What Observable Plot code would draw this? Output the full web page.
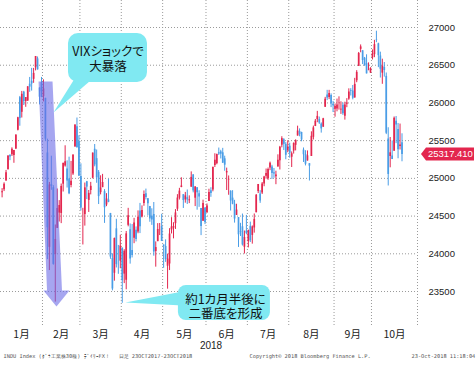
<!DOCTYPE html>
<html><head><meta charset="utf-8">
<script src="https://cdn.jsdelivr.net/npm/d3@7"></script>
<script src="https://cdn.jsdelivr.net/npm/@observablehq/plot@0.6"></script>
<style>
body{margin:0;background:#fff;}
svg text{font-feature-settings:"palt";}
</style></head><body><div id="chart"></div>
<script>
const monthNames = ["1月","2月","3月","4月","5月","6月","7月","8月","9月","10月"];
const yTicks = [23500,24000,24500,25000,25500,26000,26500,27000];
const dates = [
"01-02","01-03","01-04","01-05","01-08","01-09","01-10","01-11","01-12","01-16","01-17","01-18","01-19","01-22","01-23","01-24","01-25","01-26","01-29","01-30","01-31",
"02-01","02-02","02-05","02-06","02-07","02-08","02-09","02-12","02-13","02-14","02-15","02-16","02-20","02-21","02-22","02-23","02-26","02-27","02-28",
"03-01","03-02","03-05","03-06","03-07","03-08","03-09","03-12","03-13","03-14","03-15","03-16","03-19","03-20","03-21","03-22","03-23","03-26","03-27","03-28","03-29",
"04-02","04-03","04-04","04-05","04-06","04-09","04-10","04-11","04-12","04-13","04-16","04-17","04-18","04-19","04-20","04-23","04-24","04-25","04-26","04-27","04-30",
"05-01","05-02","05-03","05-04","05-07","05-08","05-09","05-10","05-11","05-14","05-15","05-16","05-17","05-18","05-21","05-22","05-23","05-24","05-25","05-29","05-30","05-31",
"06-01","06-04","06-05","06-06","06-07","06-08","06-11","06-12","06-13","06-14","06-15","06-18","06-19","06-20","06-21","06-22","06-25","06-26","06-27","06-28","06-29",
"07-02","07-03","07-05","07-06","07-09","07-10","07-11","07-12","07-13","07-16","07-17","07-18","07-19","07-20","07-23","07-24","07-25","07-26","07-27","07-30","07-31",
"08-01","08-02","08-03","08-06","08-07","08-08","08-09","08-10","08-13","08-14","08-15","08-16","08-17","08-20","08-21","08-22","08-23","08-24","08-27","08-28","08-29","08-30","08-31",
"09-04","09-05","09-06","09-07","09-10","09-11","09-12","09-13","09-14","09-17","09-18","09-19","09-20","09-21","09-24","09-25","09-26","09-27","09-28",
"10-01","10-02","10-03","10-04","10-05","10-08","10-09","10-10","10-11","10-12","10-15","10-16","10-17","10-18","10-19","10-22"];
const opens = [
24809,24850,24965,25115,25308,25312,25303,25389,25638,26070,25876,26143,26019,26026,26248,26288,26313,26466,26584,26198,26268,
26083,26061,25337,24085,24916,24876,23992,24337,24540,24535,24923,25165,25124,24993,24904,25059,25420,25683,25486,
25024,24536,24520,24955,24708,24839,25003,25386,25261,25080,24811,24877,24824,24647,24713,24535,23939,23742,24331,23850,23902,
24076,23731,23649,24378,24318,24043,24205,24311,24288,24569,24488,24667,24795,24730,24626,24500,24521,24031,24161,24308,24361,
24117,24097,23836,23865,24317,24341,24399,24591,24737,24879,24784,24715,24744,24703,24883,25047,24737,24877,24797,24600,24430,24607,
24542,24694,24836,24846,25172,25195,25340,25352,25339,25259,25073,24979,24830,24738,24657,24509,24481,24292,24358,24087,24301,
24161,24364,24244,24343,24544,24825,24792,24807,24926,25028,24995,25136,25150,25073,25022,25150,25232,25440,25512,25451,25370,
25427,25280,25362,25438,25561,25622,25609,25375,25317,25230,25195,25290,25545,25687,25779,25780,25720,25678,25942,26105,26071,26097,25982,
25916,25920,25991,25905,25969,25823,25984,26051,26163,26158,26066,26294,26484,26710,26692,26593,26524,26436,26396,
26598,26640,26833,26784,26623,26395,26472,26352,25522,25290,25296,25361,25757,25648,25422,25473];
const highs = [
24864,24941,25105,25299,25311,25405,25370,25575,25810,26086,26153,26154,26072,26215,26338,26458,26458,26616,26609,26199,26338,
26306,26061,25520,24946,25294,24903,24382,24859,24705,24925,25200,25432,25232,25281,25225,25310,25709,25800,25565,
25193,24603,24938,24960,24839,24947,25336,25449,25376,25104,25034,25053,24851,24797,24987,24535,24000,24209,24458,24111,24246,
24076,24054,24296,24603,24396,24388,24470,24356,24569,24668,24635,24833,24858,24733,24628,24597,24680,24158,24400,24402,24524,
24117,24185,23996,24333,24479,24412,24586,24784,24868,25008,24784,24814,24846,24768,25086,25047,24890,24877,24836,24600,24711,24607,
24661,24856,24876,25146,25326,25322,25402,25372,25398,25294,25136,25032,24835,24837,24709,24657,24481,24404,24527,24302,24509,
24314,24420,24370,24528,24786,24919,24837,24945,25027,25124,25137,25216,25173,25131,25095,25312,25424,25552,25526,25474,25499,
25466,25351,25471,25511,25692,25656,25611,25403,25367,25364,25195,25617,25693,25781,25888,25813,25736,25796,26074,26167,26167,26120,26021,
25986,26051,26081,26015,26000,26010,26057,26187,26189,26231,26326,26428,26669,26769,26692,26603,26638,26531,26466,
26703,26830,26951,26792,26673,26580,26536,26397,25671,25542,25496,25814,25820,25728,25720,25591];
const lows = [
24742,24825,24963,25112,25235,25290,25200,25383,25629,25691,25800,25966,25942,26019,26141,26157,26260,26425,26435,25974,26071,
26014,25490,23923,23778,24842,23849,23360,24337,24421,24400,24819,25149,24872,24784,24875,25039,25409,25398,25029,
24568,24117,24367,24719,24548,24781,24993,25153,24935,24653,24781,24877,24403,24625,24677,23927,23509,23637,23812,23728,23802,
23344,23605,23523,24358,23863,23945,24134,24157,24266,24268,24476,24630,24714,24505,24418,24377,23968,23823,24161,24242,24163,
23808,23886,23531,23778,24263,24198,24323,24562,24713,24876,24601,24671,24654,24665,24883,24808,24626,24578,24616,24241,24430,24387,
24542,24694,24749,24822,25144,25180,25304,25257,25199,25094,24839,24776,24567,24650,24407,24509,24084,24229,24103,23997,24254,
24078,24150,24128,24274,24544,24799,24669,24786,24889,24990,24974,25102,24985,25001,24916,25150,25111,25405,25369,25247,25340,
25267,25144,25322,25364,25561,25551,25485,25211,25165,25230,24965,25290,25509,25687,25738,25715,25600,25678,25942,26031,26044,25938,25873,
25811,25882,25905,25848,25835,25772,25937,26035,26092,26041,26064,26268,26484,26665,26509,26486,26385,26426,26391,
26570,26600,26799,26468,26330,26247,26342,25580,24899,25140,25249,25361,25460,25260,25376,25220];
const closes = [
24824,24922,25075,25295,25283,25385,25369,25574,25803,25792,26115,26017,26071,26214,26210,26252,26392,26616,26439,26076,26149,
26186,25520,24345,24912,24893,23860,24190,24601,24640,24893,25200,25219,24964,24797,24962,25309,25709,25410,25029,
24608,24538,24874,24884,24801,24895,25335,25178,25007,24758,24873,24946,24610,24727,24682,23957,23533,24202,23857,23848,24103,
23644,24033,24264,24505,23932,23979,24407,24189,24483,24360,24573,24786,24748,24664,24462,24448,24024,24083,24322,24311,24163,
24099,23924,23930,24262,24357,24360,24542,24739,24831,24899,24706,24768,24713,24715,25013,24834,24886,24811,24753,24361,24667,24415,
24635,24813,24799,25146,25241,25316,25322,25320,25201,25175,25090,24987,24700,24657,24461,24580,24252,24283,24117,24216,24271,
24307,24174,24356,24456,24776,24919,24700,24924,25019,25064,25119,25199,25064,25058,25044,25241,25414,25527,25451,25306,25415,
25333,25326,25462,25502,25628,25583,25509,25313,25187,25299,25162,25558,25669,25758,25822,25733,25656,25790,26049,26064,26124,25986,25964,
25952,25974,25995,25916,25857,25971,25998,26145,26154,26062,26246,26405,26656,26743,26562,26492,26385,26439,26458,
26651,26773,26828,26627,26447,26486,26430,25598,25052,25339,25250,25798,25706,25379,25444,25317.41];

const RED = "#e3264e", BLUE = "#4a9de6", CYAN = "#80e9f2";
const rows = dates.map((d, i) => ({i, month: +d.slice(0, 2), o: opens[i], h: highs[i], l: lows[i], c: closes[i]}));
const up = rows.filter(r => r.c >= r.o);
const down = rows.filter(r => r.c < r.o);
const xDomain = [-0.81, 210.86];
const bounds = monthNames.slice(1).map((m, k) => rows.findIndex(r => r.month === k + 2) - 0.5);
const edges = [xDomain[0], ...bounds, xDomain[1]];
const monthLabels = monthNames.map((name, k) => ({name, x: (edges[k] + edges[k + 1]) / 2}));
const lastClose = closes[closes.length - 1];

// annotation geometry (trading-day index, price)
const arrowPts = [{x:18.5,y:26284},{x:25.6,y:26284},{x:30.4,y:23513},{x:34.2,y:23513},{x:27.6,y:23301},{x:21.0,y:23513},{x:22.8,y:23513}];
const bubble1 = {x1:33.7, x2:73.8, y1:26271, y2:26920, tx:53.8, ty:26582, text:"VIXショックで\n大暴落"};
const tail1 = [{x:36.2,y:26297},{x:44.9,y:26297},{x:26.1,y:25873}];
const bubble2 = {x1:89.5, x2:136.2, y1:23116, y2:23580, tx:113.4, ty:23300, text:"約1カ月半後に\n二番底を形成"};
const tail2 = [{x:91.6,y:23500},{x:91.6,y:23314},{x:62.6,y:23354}];

const footer = [
  {t:"INDU Index (ﾀﾞｳ工業株30種) ﾃﾞｲﾘｰFX！", dx:3},
  {t:"日足 23OCT2017-23OCT2018", dx:118},
  {t:"Copyright© 2018 Bloomberg Finance L.P.", dx:249},
  {t:"23-Oct-2018 11:18:04", dx:411}
];

const grid = {stroke: "#9a9a9a", strokeDasharray: "1,2", strokeWidth: 1};

const chart = Plot.plot({
  width: 476, height: 365,
  marginLeft: 0, marginRight: 59, marginTop: 0, marginBottom: 38,
  style: {fontFamily: "'Liberation Sans', Arial, sans-serif", fontSize: "9.5px", color: "#222", background: "#fff"},
  x: {domain: xDomain, axis: null},
  y: {domain: [23023, 27358], axis: "right", ticks: yTicks, tickSize: 0, tickPadding: 11, tickFormat: d3.format("d"), label: null},
  marks: [
    Plot.ruleY(yTicks, grid),
    Plot.ruleX(bounds, grid),
    Plot.ruleX([xDomain[1]], grid),
    Plot.ruleX(up, {x: "i", y1: "l", y2: "h", stroke: RED, strokeWidth: 1}),
    Plot.ruleX(down, {x: "i", y1: "l", y2: "h", stroke: BLUE, strokeWidth: 1}),
    Plot.ruleX(up, {x: "i", y1: "o", y2: "c", stroke: RED, strokeWidth: 1.7}),
    Plot.ruleX(down, {x: "i", y1: "o", y2: "c", stroke: BLUE, strokeWidth: 1.7}),
    Plot.line(arrowPts, {x: "x", y: "y", fill: "#6b6be6", fillOpacity: 0.6, stroke: "none"}),
    Plot.line(tail1, {x: "x", y: "y", fill: CYAN, stroke: "none"}),
    Plot.rect([bubble1], {x1: "x1", x2: "x2", y1: "y1", y2: "y2", rx: 10, fill: CYAN}),
    Plot.text([bubble1], {x: "tx", y: "ty", text: "text", fontSize: 12.5, lineHeight: 1.18, fontFamily: "Noto Sans CJK JP", fill: "#111"}),
    Plot.line(tail2, {x: "x", y: "y", fill: CYAN, stroke: "none"}),
    Plot.rect([bubble2], {x1: "x1", x2: "x2", y1: "y1", y2: "y2", rx: 8, fill: CYAN}),
    Plot.text([bubble2], {x: "tx", y: "ty", text: "text", fontSize: 12.5, lineHeight: 1.15, fontFamily: "Noto Sans CJK JP", fill: "#111"}),
    Plot.text(monthLabels, {x: "x", text: "name", frameAnchor: "bottom", dy: 10, fontSize: 10.5, fontFamily: "Noto Sans CJK JP", fill: "#222"}),
    Plot.text(["2018"], {text: d => d, frameAnchor: "bottom", dx: 2, dy: 21, fontSize: 10, fill: "#222"}),
    ...footer.map(f => Plot.text([f], {text: "t", frameAnchor: "bottom-left", textAnchor: "start", dx: f.dx, dy: 30.5, fontSize: 5.3, fontFamily: "'DejaVu Sans Mono', monospace", fill: "#555"})),
    (index, scales, values, dims) => {
      const y = scales.y(lastClose);
      const x0 = dims.width - dims.marginRight;
      const g = d3.create("svg:g");
      g.append("path")
        .attr("d", `M${x0 + 4},${y} L${x0 + 9},${y - 6.5} H${x0 + 57} V${y + 6.5} H${x0 + 9} Z`)
        .attr("fill", RED);
      g.append("text")
        .attr("x", x0 + 11).attr("y", y).attr("dy", "0.35em")
        .attr("text-anchor", "start")
        .attr("fill", "#fff").attr("font-size", 9.5)
        .text(lastClose.toFixed(3));
      return g.node();
    }
  ]
});
document.getElementById("chart").append(chart);
</script>
</body></html>
